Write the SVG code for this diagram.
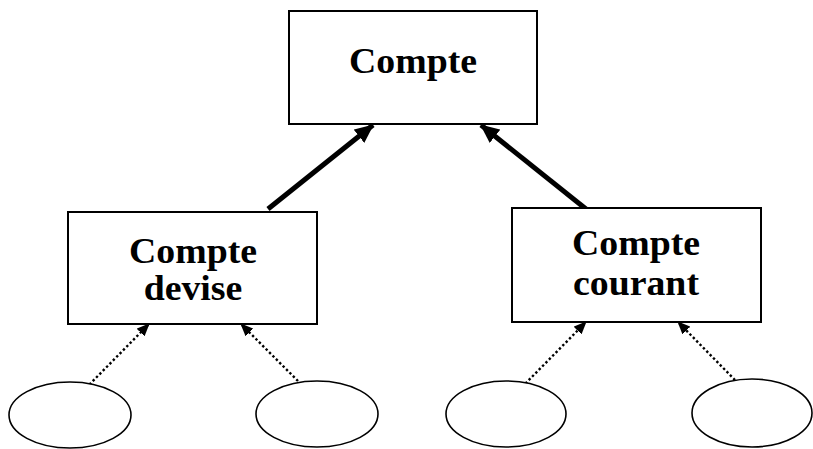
<svg xmlns="http://www.w3.org/2000/svg" width="813" height="449" viewBox="0 0 813 449">
  <style>
    .box { fill: #ffffff; stroke: #000000; stroke-width: 2; }
    .oval { fill: #ffffff; stroke: #000000; stroke-width: 1.6; }
    .label { font-family: "Liberation Serif", "Times New Roman", serif; font-weight: bold; font-size: 35px; fill: #000000; text-anchor: middle; }
    .inherit { stroke: #000000; stroke-width: 5; fill: none; }
    .instance { stroke: #000000; stroke-width: 2.4; stroke-dasharray: 2.4 2.4; fill: none; }
  </style>
  <defs>
    <marker id="headBold" markerUnits="userSpaceOnUse" markerWidth="19" markerHeight="17" refX="18" refY="8.5" orient="auto">
      <path d="M0,0 L19,8.5 L0,17 Z" fill="#000000"/>
    </marker>
    <marker id="headDot" markerUnits="userSpaceOnUse" markerWidth="13" markerHeight="11" refX="12" refY="5.5" orient="auto">
      <path d="M0,0 L13,5.5 L0,11 Z" fill="#000000"/>
    </marker>
  </defs>

  <rect width="813" height="449" fill="#ffffff"/>

  <g id="connectors">
    <line class="inherit" x1="268" y1="209" x2="373" y2="125" marker-end="url(#headBold)"/>
    <line class="inherit" x1="586" y1="209" x2="481" y2="125" marker-end="url(#headBold)"/>
    <line class="instance" x1="86" y1="388" x2="149" y2="324" marker-end="url(#headDot)"/>
    <line class="instance" x1="298" y1="381" x2="241" y2="324" marker-end="url(#headDot)"/>
    <line class="instance" x1="522" y1="387" x2="586" y2="322" marker-end="url(#headDot)"/>
    <line class="instance" x1="735" y1="380" x2="678" y2="322" marker-end="url(#headDot)"/>
  </g>

  <g id="compte">
    <rect class="box" x="289" y="11" width="248" height="113"/>
    <g transform="translate(413,0) scale(1.08,1)"><text class="label" x="0" y="73">Compte</text></g>
  </g>

  <g id="compte-devise">
    <rect class="box" x="68" y="212" width="249" height="112"/>
    <g transform="translate(193,0) scale(1.08,1)">
      <text class="label" x="0" y="263">Compte</text>
      <text class="label" x="0" y="300">devise</text>
    </g>
  </g>

  <g id="compte-courant">
    <rect class="box" x="512" y="208" width="249" height="114"/>
    <g transform="translate(636,0) scale(1.08,1)">
      <text class="label" x="0" y="255">Compte</text>
      <text class="label" x="0" y="295">courant</text>
    </g>
  </g>

  <g id="objet-1"><ellipse class="oval" cx="70" cy="415" rx="61" ry="33"/></g>
  <g id="objet-2"><ellipse class="oval" cx="317" cy="414" rx="61" ry="33"/></g>
  <g id="objet-3"><ellipse class="oval" cx="506" cy="414" rx="60" ry="33"/></g>
  <g id="objet-4"><ellipse class="oval" cx="752" cy="413" rx="60" ry="34"/></g>
</svg>
